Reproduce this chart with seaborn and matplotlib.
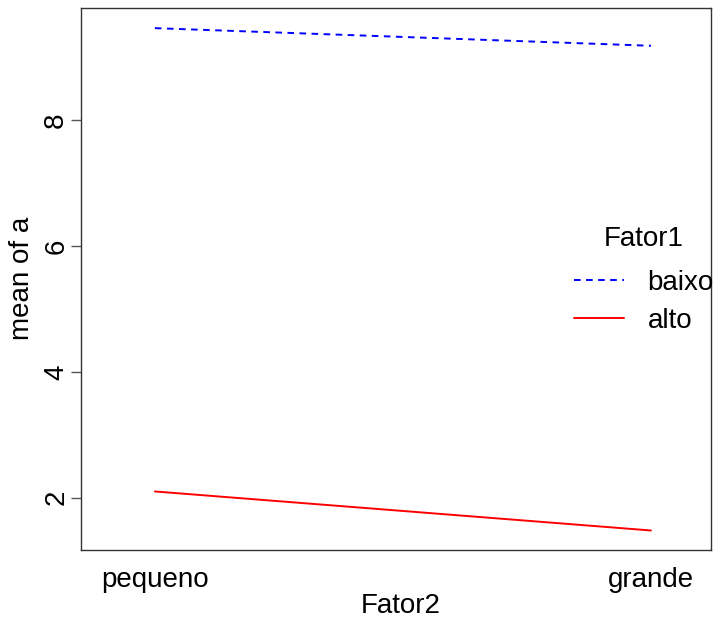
import matplotlib
matplotlib.use("Agg")
import matplotlib.pyplot as plt
import seaborn as sns
import pandas as pd

fator2_levels = ["pequeno", "grande"]
fator1_levels = ["baixo", "alto"]
mean_baixo = [9.46, 9.18]
mean_alto = [2.10, 1.48]

df = pd.DataFrame({
    "Fator2": fator2_levels * 2,
    "Fator1": [fator1_levels[0]] * 2 + [fator1_levels[1]] * 2,
    "a": mean_baixo + mean_alto,
})
df["Fator2"] = pd.Categorical(df["Fator2"], categories=fator2_levels, ordered=True)

sns.set_style("white")
plt.rcParams["font.family"] = ["Liberation Sans", "DejaVu Sans"]
plt.rcParams["text.color"] = "black"
plt.rcParams["axes.labelcolor"] = "black"
plt.rcParams["xtick.color"] = "black"
plt.rcParams["ytick.color"] = "black"

FS = 20

fig = plt.figure(figsize=(7.21, 6.2), dpi=100)
ax = fig.add_axes([81 / 721, 1 - 550 / 620, (711 - 81) / 721, (550 - 8) / 620])

sns.lineplot(data=df, x="Fator2", y="a", hue="Fator1", style="Fator1",
             hue_order=fator1_levels, style_order=fator1_levels,
             palette={"baixo": "#0000FF", "alto": "#FF0000"},
             dashes={"baixo": (3.4, 2.8), "alto": ""},
             linewidth=1.4, ax=ax, sort=False)

ax.set_xlim(-0.149, 1.121)
ax.set_ylim(1.17, 9.78)
ax.set_yticks([2, 4, 6, 8])
ax.set_xticks([0, 1])
ax.set_xticklabels(fator2_levels)
for lab in ax.get_yticklabels():
    lab.set_rotation(90)
    lab.set_va("center")
ax.tick_params(axis="y", length=7, width=1, color="#555555", labelcolor="black",
               labelsize=FS, pad=1.5, left=True)
ax.tick_params(axis="x", length=0, labelsize=FS, labelcolor="black", pad=12)
for s in ax.spines.values():
    s.set_color("#333333")
    s.set_linewidth(1.0)
ax.set_xlabel("Fator2", fontsize=FS, color="black", va="center")
ax.set_ylabel("mean of a", fontsize=FS, color="black", va="center")
ax.xaxis.set_label_coords((401 - 81) / 630, (550 - 606) / 542)
ax.yaxis.set_label_coords((22 - 81) / 630, (550 - 278) / 542)

handles, labels = ax.get_legend_handles_labels()
leg = ax.legend(handles, labels, title="Fator1", frameon=False, fontsize=FS,
                title_fontsize=FS, loc="center",
                bbox_to_anchor=((644 - 81) / 630, 1 - (280 - 8) / 542),
                handlelength=1.8, handletextpad=0.85, labelspacing=0.42)
leg._legend_box.sep = 12.5
for t in leg.get_texts():
    t.set_color("black")
leg.get_title().set_color("black")

fig.savefig("out.png", dpi=100)
